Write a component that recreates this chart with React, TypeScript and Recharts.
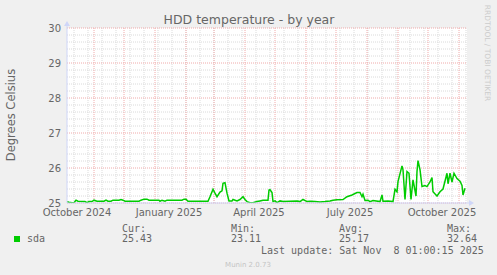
import React from "react";
import {
  LineChart,
  Line,
  XAxis,
  YAxis,
  ReferenceLine,
  ReferenceDot
} from "recharts";

// days since 5 Oct 2024 (graph start), one year + a bit
const days = [
  0, 2, 5, 7, 9, 11, 15, 18, 20, 22, 25, 27, 30, 34, 37, 39, 41, 44, 46, 52,
  54, 56, 58, 67, 72, 74, 77, 80, 82, 92, 93, 95, 98, 100, 115, 117, 119, 121,
  141, 143, 146, 148, 150, 153, 155, 156, 158, 160, 162, 165, 166, 170, 173,
  176, 178, 180, 183, 186, 190, 193, 196, 201, 202, 203, 205, 206, 208, 210,
  213, 216, 223, 230, 233, 236, 240, 243, 248, 253, 258, 263, 266, 270, 276,
  280, 285, 290, 293, 295, 296, 298, 301, 303, 306, 313, 315, 316, 321, 326,
  328, 330, 331, 335, 336, 338, 340, 342, 344, 346, 349, 350, 351, 353, 355,
  358, 360, 363, 365, 366, 370, 373, 376, 380, 381, 383, 385, 387, 390, 393,
  395, 396, 398
];

const sda = [
  25.04, 25.02, 25.01, 25.01, 25.08, 25.05, 25.04, 25.04, 25.01, 25.04, 25.04,
  25.08, 25.05, 25.05, 25.05, 25.08, 25.05, 25.05, 25.08, 25.08, 25.1, 25.08,
  25.05, 25.05, 25.05, 25.08, 25.11, 25.11, 25.08, 25.08, 25.05, 25.08, 25.05,
  25.08, 25.08, 25.11, 25.11, 25.05, 25.05, 25.18, 25.39, 25.28, 25.18, 25.31,
  25.35, 25.56, 25.58, 25.28, 25.06, 25.06, 25.1, 25.06, 25.1, 25.18, 25.1,
  25.04, 25.01, 25.01, 25.04, 25.06, 25.08, 25.08, 25.37, 25.38, 25.3, 25.04,
  25.06, 25.01, 25.06, 25.04, 25.05, 25.06, 25.04, 25.1, 25.04, 25.05, 25.04,
  25.03, 25.04, 25.06, 25.08, 25.09, 25.1, 25.18, 25.23, 25.3, 25.3, 25.18,
  25.25, 25.07, 25.08, 25.04, 25.07, 25.04, 25.23, 25.05, 25.06, 25.04, 25.39,
  25.32, 25.61, 26.06, 25.95, 25.1, 25.9, 25.85, 25.1, 25.66, 25.2, 25.9,
  26.21, 25.95, 25.47, 25.5, 25.47, 25.6, 25.73, 25.32, 25.2, 25.32, 25.4,
  25.85, 25.55, 25.85, 25.6, 25.85, 25.7, 25.62, 25.5, 25.23, 25.42
];

// first of each month
const monthDays = [27, 57, 88, 119, 147, 178, 208, 239, 269, 300, 331, 361, 392];
// mid-month label positions
const labelDays = [10, 102, 192, 283, 375];
const labelNames = ["October 2024", "January 2025", "April 2025", "July 2025", "October 2025"];

const yTicks = [25, 26, 27, 28, 29, 30];

const minorDays: number[] = [];
for (let d = 7; d < 400; d += 14) minorDays.push(d);
const minorTemps: number[] = [];
for (let i = 1; i < 25; i++) if (i % 5 !== 0) minorTemps.push(25 + i * 0.2);

const legend = { name: "sda", cur: "25.43", min: "23.11", avg: "25.17", max: "32.64" };

const FONT = "'DejaVu Sans', sans-serif";
const MONO = "'DejaVu Sans Mono', monospace";
const TEXT = "#666666";
const AXIS = "#CFD6F8";
const GRID = "#dadada";
const MGRID = "#f0aaaa";
const GREEN = "#00cc00";

const data = days.map((d, i) => ({ day: d, sda: sda[i] }));

const RightArrow = (p: any) => (
  <g>
    <line x1={p.cx} y1={p.cy} x2={p.cx + 4} y2={p.cy} stroke={AXIS} />
    <path d={`M${p.cx + 2},${p.cy - 3} L${p.cx + 7},${p.cy} L${p.cx + 2},${p.cy + 3} Z`} fill={AXIS} />
  </g>
);

const UpArrow = (p: any) => (
  <g>
    <line x1={p.cx} y1={p.cy} x2={p.cx} y2={p.cy - 4} stroke={AXIS} />
    <path d={`M${p.cx - 3},${p.cy - 2} L${p.cx},${p.cy - 7} L${p.cx + 3},${p.cy - 2} Z`} fill={AXIS} />
  </g>
);

export default function App() {
  return (
    <div
      style={{
        position: "absolute",
        left: 0,
        top: 0,
        width: 497,
        height: 275,
        background: "#f0f0f0",
        fontFamily: FONT
      }}
    >
      <LineChart
        width={497}
        height={275}
        data={data}
        margin={{ top: 28, right: 30, left: 7, bottom: 52 }}
        style={{ position: "absolute", left: 0, top: 0 }}
      >
        <rect x={67} y={28} width={400} height={175} fill="#ffffff" />
        {minorDays.map((d) => (
          <ReferenceLine key={"vx" + d} x={d} stroke={GRID} strokeDasharray="1 1" />
        ))}
        {minorTemps.map((t) => (
          <ReferenceLine key={"hy" + t} y={t} stroke={GRID} strokeDasharray="1 1" />
        ))}
        {monthDays.map((d) => (
          <ReferenceLine key={"mx" + d} x={d} stroke={MGRID} strokeDasharray="1 1" />
        ))}
        {yTicks.map((t) => (
          <ReferenceLine key={"my" + t} y={t} stroke={MGRID} strokeDasharray="1 1" />
        ))}
        <XAxis
          dataKey="day"
          type="number"
          domain={[0, 400]}
          ticks={labelDays}
          tickFormatter={(v: number) => labelNames[labelDays.indexOf(v)] ?? ""}
          interval={0}
          height={20}
          tickSize={0}
          tickMargin={6}
          tick={{ fontSize: 10, fill: TEXT, fontFamily: FONT }}
          axisLine={{ stroke: AXIS }}
          allowDataOverflow
        />
        <YAxis
          type="number"
          domain={[25, 30]}
          ticks={yTicks}
          interval={0}
          width={60}
          tickSize={0}
          tickMargin={6}
          tick={{ fontSize: 10, fill: TEXT, fontFamily: FONT }}
          axisLine={{ stroke: AXIS }}
          allowDataOverflow
        />
        <ReferenceDot x={400} y={25} ifOverflow="visible" shape={RightArrow} />
        <ReferenceDot x={0} y={30} ifOverflow="visible" shape={UpArrow} />
        <Line
          type="linear"
          dataKey="sda"
          stroke={GREEN}
          strokeWidth={1.5}
          dot={false}
          isAnimationActive={false}
        />
      </LineChart>
      <svg
        width={497}
        height={275}
        style={{ position: "absolute", left: 0, top: 0, pointerEvents: "none" }}
      >
        <text x={249} y={24} textAnchor="middle" fontSize={12.5} fill={TEXT} fontFamily={FONT}>
          HDD temperature - by year
        </text>
        <text
          transform="translate(15,115) rotate(-90)"
          textAnchor="middle"
          fontSize={11.5}
          fill={TEXT}
          fontFamily={FONT}
        >
          Degrees Celsius
        </text>
        <text
          transform="translate(485,53) rotate(90)"
          textAnchor="middle"
          fontSize={7.5}
          fill="#cccccc"
          fontFamily={FONT}
        >
          RRDTOOL / TOBI OETIKER
        </text>
        <g fontFamily={MONO} fontSize={10} fill={TEXT}>
          <text x={122} y={232}>Cur:</text>
          <text x={231} y={232}>Min:</text>
          <text x={339} y={232}>Avg:</text>
          <text x={447} y={232}>Max:</text>
          <rect x={14} y={236} width={6} height={6} fill={GREEN} />
          <text x={27} y={242}>{legend.name}</text>
          <text x={122} y={242}>{legend.cur}</text>
          <text x={231} y={242}>{legend.min}</text>
          <text x={339} y={242}>{legend.avg}</text>
          <text x={447} y={242}>{legend.max}</text>
          <text x={261} y={254} xmlSpace="preserve">Last update: Sat Nov  8 01:00:15 2025</text>
        </g>
        <text x={248} y={267} textAnchor="middle" fontSize={7} fill="#c4c4c4" fontFamily={FONT}>
          Munin 2.0.73
        </text>
      </svg>
    </div>
  );
}
